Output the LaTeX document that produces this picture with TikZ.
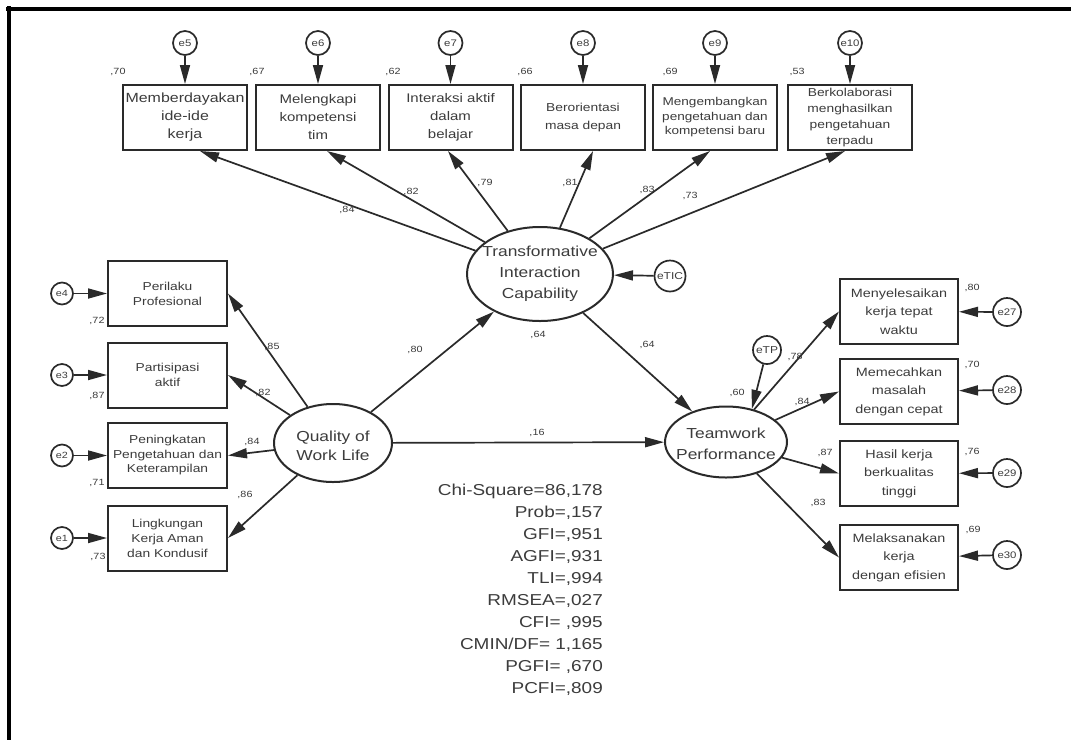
\documentclass[tikz,border=0pt]{standalone}
\usepackage{fontspec}
\setmainfont[FakeStretch=1.2]{Liberation Sans}
\usetikzlibrary{arrows.meta,shapes.geometric}
\definecolor{ink}{HTML}{2A2A2A}
\definecolor{txt}{HTML}{3C3C3C}

\begin{document}
\begin{tikzpicture}[x=1pt,y=-1pt,
  obs/.style={draw=ink, line width=2pt, rectangle, minimum height=65pt,
              inner sep=0pt, align=center, text=txt},
  topbox/.style={obs, minimum width=124pt},
  sidebox/.style={obs, minimum width=119pt},
  rbox/.style={obs, minimum width=118pt},
  lat/.style={draw=ink, line width=2pt, ellipse, inner sep=0pt},
  lattext/.style={align=center, text=txt, inner sep=0pt,
                  font=\fontsize{14.5pt}{20pt}\selectfont},
  err/.style={draw=ink, line width=1.7pt, circle, inner sep=0pt, text=txt},
  pth/.style={draw=ink, line width=1.7pt, -{Triangle[length=19pt,width=10pt]}},
  val/.style={text=txt, inner sep=0pt, font=\fontsize{9pt}{9pt}\selectfont},
  fitstat/.style={text=txt, inner sep=0pt, align=right,
                  font=\fontsize{15.8pt}{22pt}\selectfont}]

\useasboundingbox (0,0) rectangle (1071,740);
\fill[white] (0,0) rectangle (1071,740);

% frame edges
\draw[line width=4.5pt, black] (6,9) -- (1071,9);
\draw[line width=4.5pt, black] (9,6) -- (9,740);

% ---------- latent variables ----------
\node[lat, minimum width=146pt, minimum height=94pt] (tic) at (540,274) {};
\node[lattext, font=\fontsize{14.5pt}{21pt}\selectfont] (tic-t) at (540,274) {Transformative\\Interaction\\Capability};
\node[lat, minimum width=118pt, minimum height=78pt] (qwl) at (333,443) {};
\node[lattext, font=\fontsize{14.5pt}{19pt}\selectfont] (qwl-t) at (333,446) {Quality of\\Work Life};
\node[lat, minimum width=122pt, minimum height=71pt] (tp) at (726,442) {};
\node[lattext, font=\fontsize{14.5pt}{21pt}\selectfont] (tp-t) at (726,444) {Teamwork\\Performance};

% ---------- top indicators ----------
\node[topbox, font=\fontsize{13.3pt}{18pt}\selectfont] (t1) at (185,117.5) {Memberdayakan\\ide-ide\\kerja};
\node[topbox, font=\fontsize{12.5pt}{18pt}\selectfont] (t2) at (318,117.5) {Melengkapi\\kompetensi\\tim};
\node[topbox, font=\fontsize{12.5pt}{18pt}\selectfont] (t3) at (450.5,117.5) {Interaksi aktif\\dalam\\belajar};
\node[topbox, font=\fontsize{11.5pt}{18pt}\selectfont] (t4) at (583,117.5) {Berorientasi\\masa depan};
\node[topbox, font=\fontsize{11.3pt}{14.5pt}\selectfont] (t5) at (715,117.5) {Mengembangkan\\pengetahuan dan\\kompetensi baru};
\node[topbox, font=\fontsize{11.5pt}{16.3pt}\selectfont] (t6) at (850,117.5) {Berkolaborasi\\menghasilkan\\pengetahuan\\terpadu};

\foreach \n/\b/\x in {e5/t1/185, e6/t2/318, e7/t3/450.5, e8/t4/583, e9/t5/715, e10/t6/850}{
  \node[err, minimum size=24pt, font=\fontsize{9.5pt}{10pt}\selectfont] (\n) at (\x,43) {\n};
  \draw[pth] (\n) -- (\b);
}

\node[val] (r-t1) at (118,72) {,70};
\node[val] (r-t2) at (257,72) {,67};
\node[val] (r-t3) at (393,72) {,62};
\node[val] (r-t4) at (525,72) {,66};
\node[val] (r-t5) at (670,72) {,69};
\node[val] (r-t6) at (797,72) {,53};

\draw[pth] (tic) -- ([xshift=15pt]t1.south);
\draw[pth] (tic) -- ([xshift=9pt]t2.south);
\draw[pth] (tic) -- ([xshift=-2.5pt]t3.south);
\draw[pth] (tic) -- ([xshift=10pt]t4.south);
\draw[pth] (tic) -- ([xshift=-5pt]t5.south);
\draw[pth] (tic) -- ([xshift=-5pt]t6.south);

\node[val] (l-t1) at (347,210) {,84};
\node[val] (l-t2) at (411,192) {,82};
\node[val] (l-t3) at (485,183) {,79};
\node[val] (l-t4) at (570,183) {,81};
\node[val] (l-t5) at (647,190) {,83};
\node[val] (l-t6) at (690,196) {,73};

% disturbance of the mediator
\node[err, minimum size=31pt, font=\fontsize{10pt}{10pt}\selectfont] (etic) at (670,276) {eTIC};
\draw[pth] (etic) -- (tic);
\node[val] (r-tic) at (538,335) {,64};

% ---------- left indicators ----------
\node[sidebox, font=\fontsize{11.5pt}{15pt}\selectfont] (l1) at (167.5,293.5) {Perilaku\\Profesional};
\node[sidebox, font=\fontsize{11.5pt}{15pt}\selectfont] (l2) at (167.5,375) {Partisipasi\\aktif};
\node[sidebox, font=\fontsize{11.5pt}{14.5pt}\selectfont] (l3) at (167.5,455.5) {Peningkatan\\Pengetahuan dan\\Keterampilan};
\node[sidebox, font=\fontsize{11.5pt}{15pt}\selectfont] (l4) at (167.5,538) {Lingkungan\\Kerja Aman\\dan Kondusif};

\foreach \n/\b/\y in {e4/l1/293.5, e3/l2/375, e2/l3/455.5, e1/l4/538}{
  \node[err, minimum size=22pt, font=\fontsize{9pt}{10pt}\selectfont] (\n) at (62,\y) {\n};
  \draw[pth] (\n) -- (\b);
}
\node[val] (r-l1) at (97,321) {,72};
\node[val] (r-l2) at (97,396) {,87};
\node[val] (r-l3) at (97,483) {,71};
\node[val] (r-l4) at (98,557) {,73};

\draw[pth] (qwl) -- (l1.east);
\draw[pth] (qwl) -- (l2.east);
\draw[pth] (qwl) -- (l3.east);
\draw[pth] (qwl) -- (l4.east);
\node[val] (l-l1) at (272,347) {,85};
\node[val] (l-l2) at (263,393) {,82};
\node[val] (l-l3) at (252,442) {,84};
\node[val] (l-l4) at (245,495) {,86};

% ---------- structural paths ----------
\draw[pth] (qwl) -- (tic);
\draw[pth] (tic) -- (tp);
\draw[pth] (qwl) -- (tp);
\node[val] (b-qt) at (415,350) {,80};
\node[val] (b-tt) at (647,345) {,64};
\node[val] (b-qp) at (537,433) {,16};

\node[err, minimum size=28pt, font=\fontsize{10pt}{10pt}\selectfont] (etp) at (767,350) {eTP};
\draw[pth] (etp) -- (tp.52);
\node[val] (r-tp) at (737,393) {,60};

% ---------- right indicators ----------
\node[rbox, font=\fontsize{12pt}{18.5pt}\selectfont] (r1) at (899,311.5) {Menyelesaikan\\kerja tepat\\waktu};
\node[rbox, font=\fontsize{12pt}{18.5pt}\selectfont] (r2) at (899,391.5) {Memecahkan\\masalah\\dengan cepat};
\node[rbox, font=\fontsize{12pt}{18.5pt}\selectfont] (r3) at (899,473.5) {Hasil kerja\\berkualitas\\tinggi};
\node[rbox, font=\fontsize{12pt}{18.5pt}\selectfont] (r4) at (899,557.5) {Melaksanakan\\kerja\\dengan efisien};

\foreach \n/\b/\y in {e27/r1/312, e28/r2/390, e29/r3/473, e30/r4/555}{
  \node[err, minimum size=28pt, font=\fontsize{9.5pt}{10pt}\selectfont] (\n) at (1007,\y) {\n};
  \draw[pth] (\n) -- (\b);
}
\node[val] (r-r1) at (972,288) {,80};
\node[val] (r-r2) at (972,365) {,70};
\node[val] (r-r3) at (972,452) {,76};
\node[val] (r-r4) at (973,530) {,69};

\draw[pth] (tp) -- (r1.west);
\draw[pth] (tp) -- (r2.west);
\draw[pth] (tp) -- (r3.west);
\draw[pth] (tp) -- (r4.west);
\node[val] (l-r1) at (795,357) {,78};
\node[val] (l-r2) at (802,402) {,84};
\node[val] (l-r3) at (825,453) {,87};
\node[val] (l-r4) at (818,503) {,83};

% ---------- fit indices ----------
\node[fitstat, anchor=north east] (fit) at (603,484)
  {Chi-Square=86,178\\Prob=,157\\GFI=,951\\AGFI=,931\\TLI=,994\\RMSEA=,027\\CFI= ,995\\CMIN/DF= 1,165\\PGFI= ,670\\PCFI=,809};

\end{tikzpicture}
\end{document}
